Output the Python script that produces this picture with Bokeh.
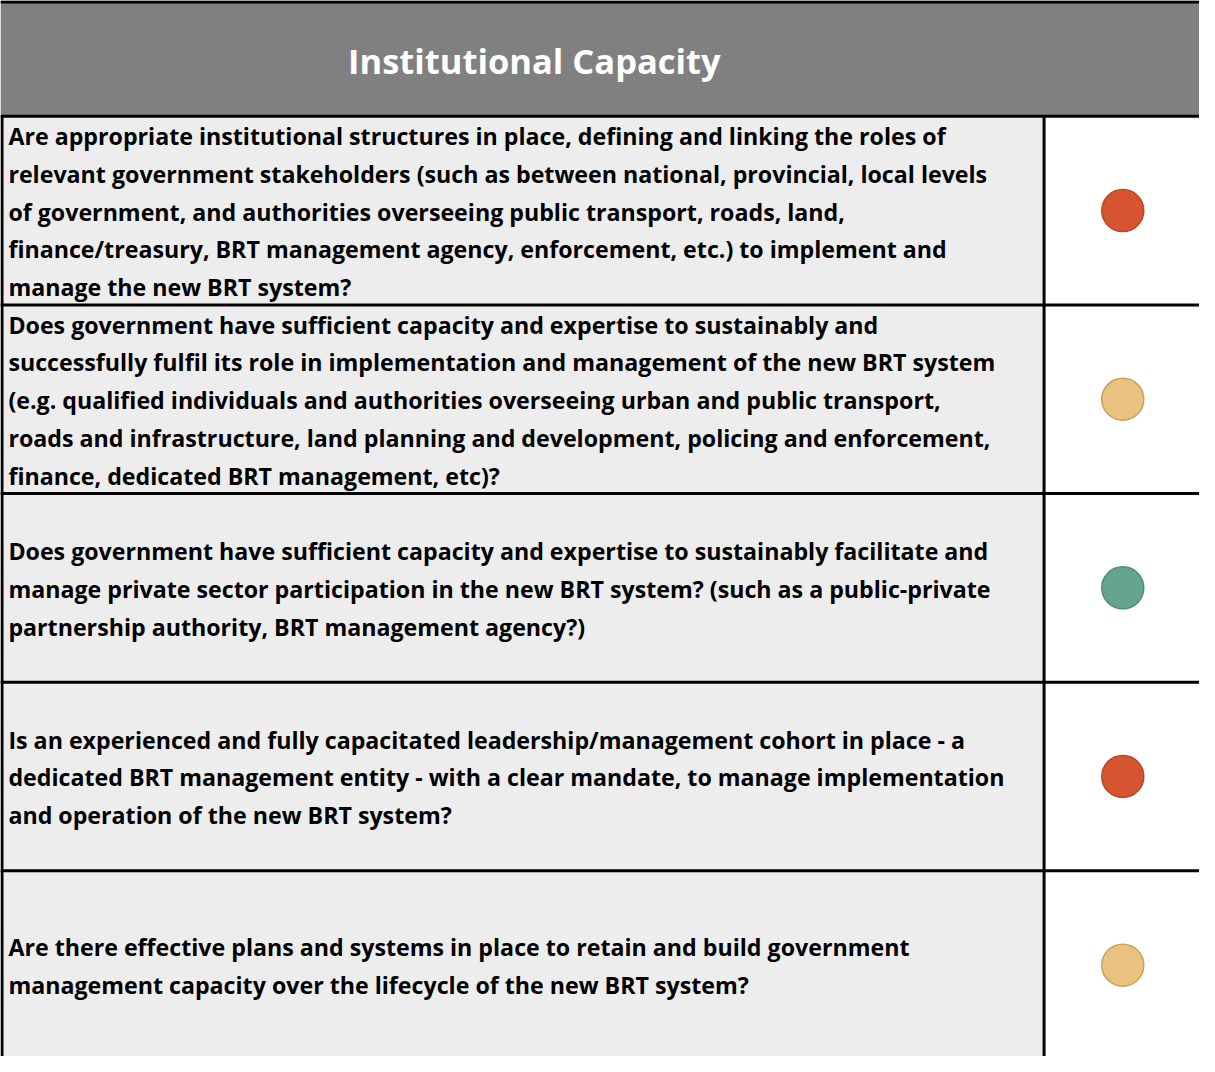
from bokeh.plotting import figure
from bokeh.models import Range1d, ColumnDataSource
from bokeh.core.properties import value
from bokeh.embed import file_html
from bokeh.resources import INLINE

title = "Institutional Capacity"

questions = [
    ["Are appropriate institutional structures in place, defining and linking the roles of",
     "relevant government stakeholders (such as between national, provincial, local levels",
     "of government, and authorities overseeing public transport, roads, land,",
     "finance/treasury, BRT management agency, enforcement, etc.) to implement and",
     "manage the new BRT system?"],
    ["Does government have sufficient capacity and expertise to sustainably and",
     "successfully fulfil its role in implementation and management of the new BRT system",
     "(e.g. qualified individuals and authorities overseeing urban and public transport,",
     "roads and infrastructure, land planning and development, policing and enforcement,",
     "finance, dedicated BRT management, etc)?"],
    ["Does government have sufficient capacity and expertise to sustainably facilitate and",
     "manage private sector participation in the new BRT system? (such as a public-private",
     "partnership authority, BRT management agency?)"],
    ["Is an experienced and fully capacitated leadership/management cohort in place - a",
     "dedicated BRT management entity - with a clear mandate, to manage implementation",
     "and operation of the new BRT system?"],
    ["Are there effective plans and systems in place to retain and build government",
     "management capacity over the lifecycle of the new BRT system?"],
]

ratings = ["red", "amber", "green", "red", "amber"]

rating_fill = {"red": "#D65430", "amber": "#E9C27F", "green": "#65A590"}
rating_line = {"red": "#B8472A", "amber": "#C9A25A", "green": "#4F8C78"}

# layout (style)
W, H = 1215, 1072
HEADER_BOTTOM = 117.5
ROW_H = 191.5
DIV_X = 1057.5
LINE_GAP = 38.3
FONT = "Open Sans"

p = figure(width=1199, height=1056, output_backend="svg", toolbar_location=None,
           x_range=Range1d(0, W), y_range=Range1d(H, 0), min_border=0)
p.axis.visible = False
p.grid.visible = False
p.outline_line_color = None
p.background_fill_color = "white"
p.border_fill_color = "white"

# header
p.quad(left=[0], right=[W], top=[0], bottom=[HEADER_BOTTOM], fill_color="#808080",
       line_color=None)
p.segment(x0=[0], y0=[1.5], x1=[W], y1=[1.5], line_color="black", line_width=3)
p.text(x=[541], y=[HEADER_BOTTOM / 2 + 2], text=[title], text_color="white",
       text_font=value(FONT), text_font_style="bold", text_font_size="34.5px",
       text_align="center", text_baseline="middle")

n = len(questions)
tops = [HEADER_BOTTOM + i * ROW_H for i in range(n)]
bottoms = [t + ROW_H for t in tops]
src = ColumnDataSource(dict(top=tops, bottom=bottoms,
                            fill=[rating_fill[r] for r in ratings],
                            line=[rating_line[r] for r in ratings],
                            cy=[(t + b) / 2 for t, b in zip(tops, bottoms)],
                            cx=[(DIV_X + W) / 2 + 1] * n))
p.quad(left=0, right=DIV_X, top="top", bottom="bottom", source=src,
       fill_color="#EDEDED", line_color=None)
p.quad(left=DIV_X, right=W, top="top", bottom="bottom", source=src,
       fill_color="white", line_color=None)

# borders
for t in tops:
    p.segment(x0=[0], y0=[t], x1=[W], y1=[t], line_color="black", line_width=3)
p.segment(x0=[1.5], y0=[HEADER_BOTTOM], x1=[1.5], y1=[H], line_color="black", line_width=3)
p.segment(x0=[DIV_X], y0=[HEADER_BOTTOM], x1=[DIV_X], y1=[H], line_color="black", line_width=3)

# text lines
xs, ys, txt = [], [], []
for i, lines in enumerate(questions):
    c = (tops[i] + bottoms[i]) / 2
    m = len(lines)
    for j, ln in enumerate(lines):
        xs.append(8)
        ys.append(c + (j - (m - 1) / 2) * LINE_GAP + 1)
        txt.append(ln)
p.text(x=xs, y=ys, text=txt, text_color="black", text_font=value(FONT),
       text_font_style="bold", text_font_size="23.2px", text_align="left",
       text_baseline="middle")

p.scatter(x="cx", y="cy", source=src, size=42, fill_color="fill", line_color="line",
          line_width=1.5)

open("out.html", "w").write(file_html(p, INLINE))
